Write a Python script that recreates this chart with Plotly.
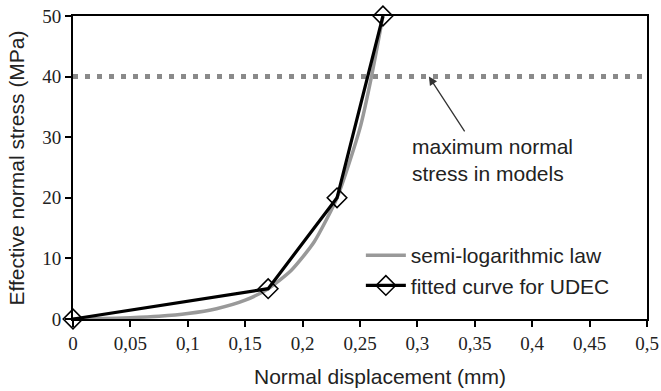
import plotly.graph_objects as go

# Fitted curve for UDEC (normal displacement in mm, effective normal stress in MPa)
udec_disp = [0, 0.17, 0.23, 0.27]
udec_stress = [0, 5, 20, 50]

# Semi-logarithmic law, sampled points
law_disp = [0, 0.025, 0.05, 0.075, 0.1, 0.125, 0.15, 0.17, 0.19, 0.21, 0.23, 0.25, 0.26, 0.27]
law_stress = [0, 0.08, 0.22, 0.46, 0.91, 1.7, 3.1, 5.0, 8.0, 12.7, 20.0, 31.5, 40.0, 50.0]

# Maximum normal stress applied in the models
max_stress = 40
max_line_x = [0, 0.5]

x_ticks = [0, 0.05, 0.1, 0.15, 0.2, 0.25, 0.3, 0.35, 0.4, 0.45, 0.5]
x_tick_text = ["0", "0,05", "0,1", "0,15", "0,2", "0,25", "0,3", "0,35", "0,4", "0,45", "0,5"]
y_ticks = [0, 10, 20, 30, 40, 50]

SANS = "Liberation Sans"
SERIF = "Times New Roman, Liberation Serif, DejaVu Serif, serif"

fig = go.Figure()

fig.add_trace(go.Scatter(
    x=max_line_x, y=[max_stress, max_stress], mode="lines",
    line=dict(color="#8a8a8a", width=5, dash="5px,7px"),
    showlegend=False, hoverinfo="skip"))

fig.add_trace(go.Scatter(
    x=law_disp, y=law_stress, mode="lines", name="semi-logarithmic law",
    line=dict(color="#999999", width=3.5, shape="spline", smoothing=0.6),
    cliponaxis=False))

fig.add_trace(go.Scatter(
    x=udec_disp, y=udec_stress, mode="lines+markers", name="fitted curve for UDEC",
    line=dict(color="black", width=3.2),
    marker=dict(symbol="diamond-open", size=15, color="black", line=dict(width=1.6)),
    cliponaxis=False))

axis_common = dict(
    showgrid=False, zeroline=False, showline=True, linecolor="black", linewidth=2,
    mirror=True, ticks="outside", ticklen=6, tickwidth=1.5, tickcolor="black",
    automargin=False,
    tickfont=dict(family=SERIF, size=19, color="#222"))

fig.update_xaxes(range=[0, 0.5], tickvals=x_ticks, ticktext=x_tick_text, **axis_common)
fig.update_yaxes(range=[0, 50], tickvals=y_ticks, **axis_common)

fig.add_annotation(
    x=0.31, y=40, ax=0.342, ay=30.7, xref="x", yref="y", axref="x", ayref="y",
    text="", showarrow=True, arrowhead=2, arrowsize=1.3, arrowwidth=1.3,
    arrowcolor="#333")
fig.add_annotation(
    x=0.2935, y=26.2, xref="x", yref="y", xanchor="left", yanchor="middle",
    align="left", showarrow=False, text="maximum normal<br>stress in models",
    font=dict(family=SANS, size=21, color="#222"))

# Axis titles
fig.add_annotation(
    x=0.535, y=-0.19, xref="paper", yref="paper", xanchor="center", yanchor="middle",
    showarrow=False, text="Normal displacement (mm)",
    font=dict(family=SANS, size=21, color="#222"))
fig.add_annotation(
    x=-0.0976, y=0.5, xref="paper", yref="paper", xanchor="center", yanchor="middle",
    showarrow=False, textangle=-90, text="Effective normal stress (MPa)",
    font=dict(family=SANS, size=21, color="#222"))

fig.update_layout(
    width=661, height=391,
    margin=dict(l=73, r=14, t=16, b=72),
    plot_bgcolor="white", paper_bgcolor="white",
    font=dict(family=SANS),
    legend=dict(x=0.5015, y=0.16, xanchor="left", yanchor="middle",
                bgcolor="rgba(0,0,0,0)", itemwidth=40,
                font=dict(family=SANS, size=21, color="#222"),
                tracegroupgap=0),
)

fig.write_html("out.html")
